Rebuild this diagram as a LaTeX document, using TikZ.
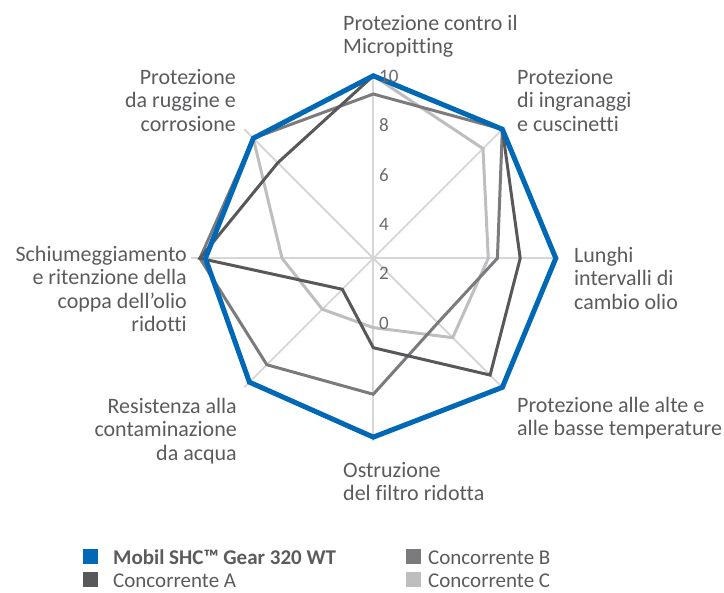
\documentclass[tikz,border=0pt]{standalone}
\usepackage{fontspec}
\setmainfont{Carlito}[Ligatures=NoCommon]
\usetikzlibrary{calc}
\definecolor{mobilblue}{HTML}{0068B4}
\definecolor{concA}{HTML}{58585B}
\definecolor{concB}{HTML}{7B7B7E}
\definecolor{concC}{HTML}{BEBEC1}
\definecolor{spokegray}{HTML}{D6D6D6}
\definecolor{labelgray}{HTML}{5B5B5E}

\begin{document}
\begin{tikzpicture}[x=1pt, y=1pt,
  axislabel/.style={text=labelgray, font=\fontsize{22}{23.5}\selectfont, inner sep=0pt},
  ticklabel/.style={text=labelgray!90, font=\fontsize{19}{19}\selectfont, inner sep=0pt, anchor=west},
  serie/.style={line width=3pt, line join=miter},
  legendbox/.style={minimum size=15pt, inner sep=0pt, anchor=south west},
  legendtext/.style={text=labelgray, font=\fontsize{21}{21}\selectfont, inner sep=0pt, anchor=base west}]
\useasboundingbox (0,0) rectangle (724,593);
\coordinate (c) at (373.3,334.7);

\begin{scope}[shift={(c)}, x=18.25pt, y=18.25pt]
% spokes
\foreach \a in {0,45,...,315}
  \draw[spokegray, line width=1.8pt] (0,0) -- (\a:10);
% series
\draw[serie, concC] (90:10) -- (45:8.5) -- (0:6.3) -- (-45:6.15) -- (-90:3.8) -- (-135:3.95) -- (180:5) -- (135:9.3) -- cycle;
\draw[serie, concB] (90:9) -- (45:10) -- (0:6.8) -- (-45:5) -- (-90:7.45) -- (-135:8.25) -- (180:9.5) -- (135:9.3) -- cycle;
\draw[serie, concA] (90:10) -- (45:10) -- (0:8.05) -- (-45:9.05) -- (-90:4.9) -- (-135:2.4) -- (180:9.5) -- (135:7.4) -- cycle;
\draw[serie, mobilblue, line width=5pt] (90:10) -- (45:10) -- (0:10) -- (-45:10) -- (-90:9.8) -- (-135:9.6) -- (180:9.2) -- (135:9.3) -- cycle;
\end{scope}

% scale
\foreach \v [count=\i from 0] in {10,8,6,4,2,0}
  \node[ticklabel] (tick\v) at (379, {517-49.4*\i}) {\v};

% axis labels
\node[axislabel, anchor=north west, align=left] (micro) at (343,578) {Protezione contro il\\Micropitting};
\node[axislabel, anchor=north west, align=left] (ingran) at (517,524) {Protezione\\di ingranaggi\\e cuscinetti};
\node[axislabel, anchor=north west, align=left] (lunghi) at (574,346) {Lunghi\\intervalli di\\cambio olio};
\node[axislabel, anchor=north west, align=left] (temp) at (517,196) {Protezione alle alte e\\alle basse temperature};
\node[axislabel, anchor=north west, align=left] (filtro) at (343,131) {Ostruzione\\del filtro ridotta};
\node[axislabel, anchor=north east, align=right] (acqua) at (237,195) {Resistenza alla\\contaminazione\\da acqua};
\node[axislabel, anchor=north east, align=right] (schiuma) at (187,347) {Schiumeggiamento\\e ritenzione della\\coppa dell’olio\\ridotti};
\node[axislabel, anchor=north east, align=right] (ruggine) at (236,524) {Protezione\\da ruggine e\\corrosione};

% legend
\node[legendbox, fill=mobilblue] (kmobil) at (83,28.5) {};
\node[legendbox, fill=concA] (kA) at (83,5.5) {};
\node[legendbox, fill=concB] (kB) at (405.7,28.5) {};
\node[legendbox, fill=concC] (kC) at (405.7,5.5) {};
\node[legendtext, font=\fontsize{21}{21}\selectfont\bfseries] (tmobil) at (113,28) {Mobil SHC™ Gear 320 WT};
\node[legendtext] (tA) at (113,5) {Concorrente A};
\node[legendtext] (tB) at (428,28) {Concorrente B};
\node[legendtext] (tC) at (428,5) {Concorrente C};
\end{tikzpicture}
\end{document}
